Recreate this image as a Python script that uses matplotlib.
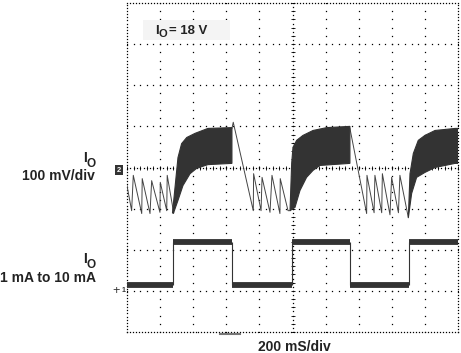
import numpy as np
import matplotlib.pyplot as plt
from matplotlib.patches import Rectangle

plt.rcParams['font.family'] = ['Liberation Sans', 'DejaVu Sans']

W, H = 461, 353

# scope settings
ms_per_div = 200
mv_per_div = 100
ma_per_div = 8.6
ch2_offset = -2.97  # div, channel 2 ground

# ch1: output ripple while the load is light (sawtooth vertices), ms / mV
light1_t = [0, 28, 38, 89, 92, 139, 149, 199, 201, 240, 243, 282]
light1_mv = [-44, -105, -19, -112, -27, -112, -32, -109, -36, -105, -19, -110]
light2_t = [634, 642, 763, 765, 810, 816, 864, 876, 924, 926, 973, 985]
light2_mv = [95, 110, -105, -15, -105, -24, -109, -19, -112, -27, -105, -105]
light3_t = [1347, 1448, 1450, 1493, 1498, 1539, 1543, 1589, 1599, 1640, 1649, 1700]
light3_mv = [95, -112, -19, -110, -19, -110, -15, -115, -24, -110, -19, -122]

# ch1: ripple envelope while the load is heavy (upper / lower edge)
band1_up_t = [275, 290, 308, 330, 361, 411, 489, 634]
band1_up_mv = [-110, -49, 24, 58, 73, 83, 95, 97]
band1_lo_t = [275, 280, 308, 338, 381, 421, 489, 634]
band1_lo_mv = [-110, -112, -80, -44, -15, -2, 7, 10]
band2_up_t = [985, 995, 1003, 1025, 1063, 1124, 1207, 1347]
band2_up_mv = [-105, 10, 49, 66, 78, 90, 97, 100]
band2_lo_t = [985, 1015, 1045, 1085, 1124, 1166, 1347]
band2_lo_mv = [-105, -97, -56, -24, -7, 5, 10]
band3_up_t = [1700, 1710, 1730, 1760, 1800, 1861, 1982, 2000]
band3_up_mv = [-122, -15, 34, 66, 78, 90, 95, 95]
band3_lo_t = [1700, 1720, 1750, 1800, 1861, 1982, 2000]
band3_lo_mv = [-122, -63, -24, -12, 0, 10, 10]

# ch2: load current steps
load_t = [0, 278, 637, 994, 1350, 1704, 2000]
load_ma = [1, 10, 1, 10, 1, 10]

trace = '#333333'
ink = '#222222'

fig = plt.figure(figsize=(W / 100, H / 100), dpi=100)
ax = fig.add_axes([127 / W, (H - 332) / H, 331 / W, 329 / H])
ax.set_xlim(0, 10)
ax.set_ylim(-4, 4)
ax.axis('off')


def px(x, y):
    return x / W, 1 - y / H


# graticule
dot = dict(ls='none', marker='s', ms=0.9, mew=0, color='black', zorder=1)
for k in range(1, 10):
    if k != 5:
        yy = np.arange(-4, 4.01, 0.2)
        ax.plot(np.full_like(yy, k), yy, **dot)
for j in range(-3, 4):
    if j != 0:
        xx = np.arange(0, 10.01, 0.2)
        ax.plot(xx, np.full_like(xx, j), **dot)
yy = np.arange(-4, 4.01, 0.1)
ax.plot(np.full_like(yy, 5), yy, **dot)
xx = np.arange(0, 10.01, 0.1)
ax.plot(xx, np.zeros_like(xx), **dot)
ax.plot(np.full(41, 5), np.arange(-4, 4.01, 0.2), ls='none', marker='_', ms=2.2,
        mew=0.6, color='black', zorder=1)
ax.plot(np.arange(0, 10.01, 0.2), np.zeros(51), ls='none', marker='|', ms=2.2,
        mew=0.6, color='black', zorder=1)
# frame
xx = np.arange(0, 10.001, 0.09)
yy = np.arange(-4, 4.001, 0.075)
for y0 in (-4, 4):
    ax.plot(xx, np.full_like(xx, y0), clip_on=False, **dot)
for x0 in (0, 10):
    ax.plot(np.full_like(yy, x0), yy, clip_on=False, **dot)

# ch1 traces
for t, mv in ((light1_t, light1_mv), (light2_t, light2_mv), (light3_t, light3_mv)):
    ax.plot(np.array(t) / ms_per_div, np.array(mv) / mv_per_div, color='#444444',
            lw=0.7, zorder=3)
bands = ((band1_up_t, band1_up_mv, band1_lo_t, band1_lo_mv),
         (band2_up_t, band2_up_mv, band2_lo_t, band2_lo_mv),
         (band3_up_t, band3_up_mv, band3_lo_t, band3_lo_mv))
for ut, um, lt, lm in bands:
    xs = np.r_[ut, lt[::-1]] / ms_per_div
    ys = np.r_[um, lm[::-1]] / mv_per_div
    ax.fill(xs, ys, color=trace, lw=0.8, zorder=3)

# ch2 load current
lvl = ch2_offset + np.array(load_ma) / ma_per_div
for i, y in enumerate(lvl):
    ax.hlines(y, load_t[i] / ms_per_div, load_t[i + 1] / ms_per_div,
              color=trace, lw=4.2, zorder=3)
for i in range(1, len(lvl)):
    ax.vlines(load_t[i] / ms_per_div, min(lvl[i - 1], lvl[i]), max(lvl[i - 1], lvl[i]),
              color=trace, lw=0.8, zorder=3)

# trigger position marker
fig.add_artist(plt.Line2D([220 / W, 240 / W], [1 - 333.5 / H] * 2,
                          color='#777777', lw=1.5))

# annotations
fig.add_artist(Rectangle(px(143, 40), 87 / W, 20 / H, transform=fig.transFigure,
                         facecolor='#f4f4f4', edgecolor='none', zorder=2))
fig.text(*px(155.5, 34), 'I', fontsize=9.5, fontweight='bold', va='baseline',
         ha='left', color=ink, zorder=4)
fig.text(*px(158.5, 37), 'O', fontsize=8, fontweight='bold', va='baseline',
         ha='left', color=ink, zorder=4)
fig.text(*px(169, 34), '= 18 V', fontsize=9.5, fontweight='bold', va='baseline',
         ha='left', color=ink, zorder=4)

fig.text(*px(87, 162), 'I', fontsize=10, fontweight='bold', va='baseline',
         ha='right', color=ink)
fig.text(*px(96, 167), 'O', fontsize=8.5, fontweight='bold', va='baseline',
         ha='right', color=ink)
fig.text(*px(95, 180), '100 mV/div', fontsize=10, fontweight='bold',
         va='baseline', ha='right', color=ink)
fig.text(*px(87, 263), 'I', fontsize=10, fontweight='bold', va='baseline',
         ha='right', color=ink)
fig.text(*px(96, 267.5), 'O', fontsize=8.5, fontweight='bold', va='baseline',
         ha='right', color=ink)
fig.text(*px(96, 282.5), '1 mA to 10 mA', fontsize=10, fontweight='bold',
         va='baseline', ha='right', color=ink)
fig.text(*px(294, 351), '200 mS/div', fontsize=10, fontweight='bold',
         va='baseline', ha='center', color=ink)

# channel markers
fig.text(*px(119, 170), '2', fontsize=5.5, fontweight='bold', color='white',
         ha='center', va='center',
         bbox=dict(boxstyle='square,pad=0.25', facecolor='#333333', edgecolor='none'))
fig.text(*px(116, 291), '+', fontsize=9, color='#333333', ha='center', va='center')
fig.text(*px(123, 290), '1', fontsize=5, fontweight='bold', color='#333333',
         ha='center', va='center')

fig.savefig('out.png', dpi=100)
